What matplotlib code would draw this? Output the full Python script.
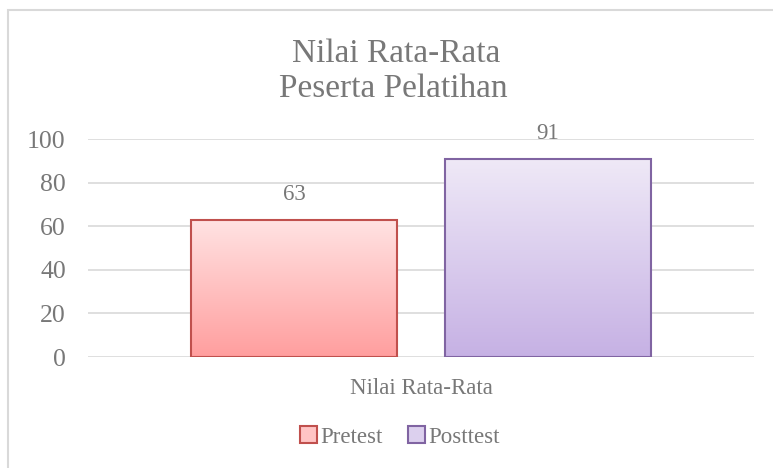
import matplotlib
matplotlib.use("Agg")
import matplotlib.pyplot as plt
import numpy as np
from matplotlib.patches import Rectangle, Patch
from matplotlib.colors import LinearSegmentedColormap

category = ["Nilai Rata-Rata"]
series = ["Pretest", "Posttest"]
values = [63, 91]
yticks = [0, 20, 40, 60, 80, 100]
title_lines = ["Nilai Rata-Rata", "Peserta Pelatihan"]

top_colors = ["#FFE3E3", "#EFE9F7"]
bottom_colors = ["#FF9E9E", "#C6B1E4"]
legend_fill = ["#FFC4C4", "#DCD0EE"]
edge_colors = ["#C0504D", "#8064A2"]
text_color = "#787878"

plt.rcParams['font.family'] = ['Liberation Serif', 'DejaVu Serif']

fig = plt.figure(figsize=(7.73, 4.68), dpi=100)
fig.patches.append(Rectangle((8/773, -0.1), 1.2, (468-10)/468 + 0.1, transform=fig.transFigure,
                             fill=False, edgecolor="#D9D9D9", linewidth=1.5))

ax = fig.add_axes([88/773, (468-357)/468, (754-88)/773, (357-139)/468])
ax.set_xlim(-0.5, 0.5)
ax.set_ylim(0, 100)

width = 0.309
offsets = [-0.1907, 0.1907]
for i, (s, v) in enumerate(zip(series, values)):
    x0 = offsets[i] - width / 2
    bar = ax.bar(offsets[i], v, width=width, color="none", edgecolor=edge_colors[i],
                 linewidth=1.5, zorder=3)[0]
    cmap = LinearSegmentedColormap.from_list("g%d" % i, [bottom_colors[i], top_colors[i]])
    grad = np.linspace(0, 1, 256).reshape(-1, 1)
    im = ax.imshow(grad, cmap=cmap, origin="lower", aspect="auto",
                   extent=[x0, x0 + width, 0, v], zorder=2)
    im.set_clip_path(bar)
    ax.text(offsets[i], v + 6.8, str(v), ha="center", va="bottom", fontsize=16.5,
            color=text_color)

ax.set_xlim(-0.5, 0.5)
ax.set_ylim(0, 100)
ax.set_yticks(yticks)
ax.set_yticklabels([str(t) for t in yticks], fontsize=18.5, color=text_color)
ax.tick_params(axis="y", length=0, pad=16)
ax.set_xticks([0])
ax.set_xticklabels(category, fontsize=16.5, color=text_color)
ax.tick_params(axis="x", length=0, pad=15)
ax.grid(axis="y", color="#D9D9D9", linewidth=1.2, zorder=0)
ax.set_axisbelow(True)
for sp in ax.spines.values():
    sp.set_visible(False)

fig.text(396/773, 1 - 62/468, title_lines[0], ha="center", va="baseline", fontsize=24,
         color=text_color)
fig.text(393/773, 1 - 97/468, title_lines[1], ha="center", va="baseline", fontsize=24,
         color=text_color)

handles = [Patch(facecolor=legend_fill[i], edgecolor=edge_colors[i], linewidth=1.5)
           for i in range(2)]
fig.legend(handles, series, loc="center", bbox_to_anchor=(400/773, 1 - 437/468), ncol=2,
           frameon=False, fontsize=16.5, handlelength=0.75, handleheight=0.75,
           handletextpad=0.15, columnspacing=1.1, labelcolor=text_color)

fig.savefig("out.png", dpi=100)
